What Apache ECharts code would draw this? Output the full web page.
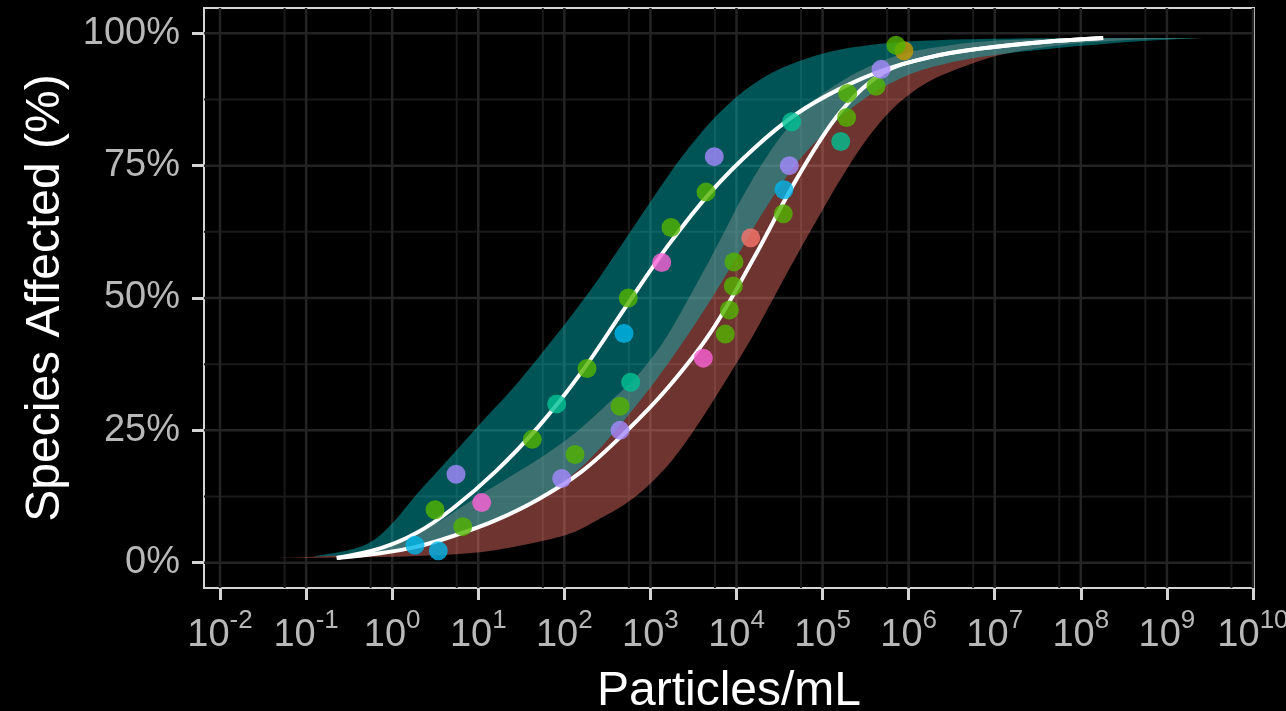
<!DOCTYPE html>
<html lang="en">
<head>
<meta charset="UTF-8" />
<title>Species Affected</title>
<script src="https://cdn.jsdelivr.net/npm/echarts@6/dist/echarts.min.js"></script>
<style>
  html, body { margin: 0; background: #000; }
  #chart { width: 1286px; height: 711px; }
</style>
</head>
<body>
<div id="chart"></div>
<script>
// x values are log10(particles/mL), y values are the fraction of species affected
var xTicks = [-2, -1, 0, 1, 2, 3, 4, 5, 6, 7, 8, 9, 10]
var yTicks = [0, 0.25, 0.5, 0.75, 1]

var groupColors = { s: '#F8766D', y: '#C49A00', g: '#53B400', t: '#00C094', c: '#00B6EB', p: '#A58AFF', k: '#FB61D7' }

// left distribution (15 species)
var setA_x = [0.265, 0.498, 0.742, 1.628, 1.911, 2.264, 2.693, 2.743, 3.131, 3.239, 3.646, 3.742, 4.641, 5.621, 5.946]
var setA_y = [0.033, 0.1, 0.167, 0.233, 0.3, 0.367, 0.433, 0.5, 0.567, 0.633, 0.7, 0.767, 0.833, 0.9, 0.967]
var setA_g = ['c', 'g', 'p', 'g', 't', 'g', 'c', 'g', 'k', 'g', 'g', 'p', 't', 'g', 'y']

// right distribution (22 species)
var setB_x = [0.536, 0.82, 1.04, 1.97, 2.124, 2.647, 2.647, 2.771, 3.615, 3.87, 3.917, 3.963, 3.971, 4.165, 4.544, 4.552, 4.614, 5.211, 5.28, 5.292, 5.679, 5.853]
var setB_y = [0.0227, 0.0682, 0.1136, 0.1591, 0.2045, 0.25, 0.2955, 0.3409, 0.3864, 0.4318, 0.4773, 0.5227, 0.5682, 0.6136, 0.6591, 0.7045, 0.75, 0.7955, 0.8409, 0.8864, 0.9318, 0.9773]
var setB_g = ['c', 'g', 'k', 'p', 'g', 'p', 'g', 't', 'k', 'g', 'g', 'g', 'g', 's', 'g', 'c', 'p', 't', 'g', 'g', 'p', 'g']

// fitted curves
var curveA_x = [-0.644, -0.14, 0.28, 0.7, 1.2, 1.7, 2.2, 2.7, 3.2, 3.7, 4.2, 4.7, 5.2, 5.7, 6.25, 6.83, 7.6, 8.26]
var curveA_y = [0.009, 0.027, 0.056, 0.102, 0.172, 0.257, 0.36, 0.48, 0.598, 0.7, 0.782, 0.848, 0.895, 0.93, 0.955, 0.971, 0.984, 0.991]
var curveB_x = [-0.644, -0.14, 0.28, 0.7, 1.2, 1.7, 2.2, 2.7, 3.2, 3.7, 4.2, 4.7, 5.2, 5.7, 6.25, 6.83, 7.6, 8.26]
var curveB_y = [0.009, 0.018, 0.03, 0.05, 0.08, 0.12, 0.172, 0.245, 0.33, 0.435, 0.575, 0.725, 0.85, 0.925, 0.955, 0.971, 0.984, 0.991]

// confidence bands (upper edge / lower edge)
var tealUp_x = [-0.92, -0.5, -0.3, -0.141, 0.05, 0.246, 0.634, 1.02, 1.485, 2.26, 3.034, 3.344, 3.731, 4.119, 4.506, 5.087, 5.667, 6.054, 6.829, 7.909, 9.42]
var tealUp_y = [0.0115, 0.024, 0.035, 0.052, 0.083, 0.122, 0.192, 0.262, 0.345, 0.505, 0.69, 0.762, 0.838, 0.895, 0.933, 0.965, 0.98, 0.985, 0.989, 0.991, 0.991]
var tealLo_x = [-0.92, -0.141, 0.5, 1.02, 1.6, 2.26, 2.995, 3.537, 3.925, 4.312, 4.7, 5.087, 5.358, 5.667, 6.054, 6.441, 6.829, 7.139, 7.909, 8.687, 9.42]
var tealLo_y = [0.0115, 0.018, 0.038, 0.066, 0.11, 0.19, 0.33, 0.455, 0.556, 0.663, 0.755, 0.823, 0.861, 0.895, 0.925, 0.943, 0.955, 0.962, 0.975, 0.985, 0.991]
var redUp_x = [-1.574, -0.92, -0.141, 0.44, 1.02, 1.795, 2.2, 2.569, 2.802, 3.1, 3.344, 3.731, 4.119, 4.506, 4.893, 5.28, 5.667, 6.054, 6.829, 7.909, 9.42]
var redUp_y = [0.0094, 0.0115, 0.024, 0.068, 0.128, 0.206, 0.255, 0.31, 0.345, 0.405, 0.47, 0.585, 0.705, 0.803, 0.872, 0.915, 0.946, 0.966, 0.984, 0.99, 0.991]
var redLo_x = [-1.574, -0.141, 1.02, 1.795, 2.1, 2.376, 2.7, 2.957, 3.27, 3.58, 4.05, 4.24, 4.58, 4.89, 5.2, 5.513, 5.862, 6.248, 6.829, 7.139, 7.909, 8.687, 9.42]
var redLo_y = [0.0094, 0.0108, 0.02, 0.043, 0.057, 0.08, 0.11, 0.143, 0.197, 0.268, 0.39, 0.443, 0.545, 0.635, 0.722, 0.8, 0.865, 0.91, 0.948, 0.962, 0.98, 0.988, 0.991]

var xMinor = [-1.25, -0.25, 0.75, 1.75, 2.75, 3.75, 4.75, 5.75, 6.75, 7.75, 8.75, 9.75]
var yMinor = [0.125, 0.375, 0.625, 0.875]

var xRange = [-2.186, 10.012]
var yRange = [-0.0477, 1.0477]

var font = 'Liberation Sans, Arial, sans-serif'
var chart = echarts.init(document.getElementById('chart'))

function zip(xs, ys) {
  var out = []
  for (var i = 0; i < xs.length; i++) out.push([xs[i], ys[i]])
  return out
}

function points(xs, ys, gs) {
  var out = []
  for (var i = 0; i < xs.length; i++) out.push({ value: [xs[i], ys[i]], itemStyle: { color: groupColors[gs[i]] } })
  return out
}

// band drawn as one polygon: upper edge left to right, lower edge back
function band(upX, upY, loX, loY, color, z) {
  return {
    type: 'custom',
    z: z,
    silent: true,
    clip: true,
    data: [0],
    renderItem: function (params, api) {
      var pts = []
      for (var i = 0; i < upX.length; i++) pts.push(api.coord([upX[i], upY[i]]))
      for (var j = loX.length - 1; j >= 0; j--) pts.push(api.coord([loX[j], loY[j]]))
      return { type: 'polygon', shape: { points: pts, smooth: 0.3 }, style: { fill: color } }
    }
  }
}

// panel grid lines (major at ticks, minor in between)
function gridSeries() {
  return {
    type: 'custom',
    z: 1,
    silent: true,
    data: [0],
    renderItem: function (params, api) {
      var kids = []
      function vline(v, color, w) {
        var a = api.coord([v, yRange[0]]), b = api.coord([v, yRange[1]])
        kids.push({ type: 'line', shape: { x1: a[0], y1: a[1], x2: b[0], y2: b[1] }, style: { stroke: color, lineWidth: w } })
      }
      function hline(v, color, w) {
        var a = api.coord([xRange[0], v]), b = api.coord([xRange[1], v])
        kids.push({ type: 'line', shape: { x1: a[0], y1: a[1], x2: b[0], y2: b[1] }, style: { stroke: color, lineWidth: w } })
      }
      xMinor.forEach(function (v) { vline(v, '#1a1a1a', 2) })
      yMinor.forEach(function (v) { hline(v, '#1a1a1a', 2) })
      xTicks.forEach(function (v) { vline(v, '#242424', 2.5) })
      yTicks.forEach(function (v) { hline(v, '#242424', 2.5) })
      return { type: 'group', children: kids }
    }
  }
}

var option = {
  backgroundColor: '#000',
  animation: false,
  grid: {
    left: 204, right: 32, top: 8, bottom: 123,
    containLabel: false,
    outerBoundsMode: 'none',
    show: true,
    backgroundColor: '#000',
    borderColor: '#d4d4d4',
    borderWidth: 2
  },
  xAxis: {
    type: 'value',
    min: xRange[0],
    max: xRange[1],
    name: 'Particles/mL',
    nameLocation: 'middle',
    nameGap: 80,
    nameTextStyle: { color: '#fff', fontSize: 48, fontFamily: font },
    axisLine: { show: false, onZero: false },
    splitLine: { show: false },
    axisTick: { show: true, customValues: xTicks, length: 12, lineStyle: { color: '#d4d4d4', width: 3 } },
    axisLabel: {
      customValues: xTicks,
      margin: 20,
      formatter: function (v) { return '{b|10}{s|' + v + '}' },
      rich: {
        b: { fontSize: 38, lineHeight: 56, color: '#b8b8b8', fontFamily: font },
        s: { fontSize: 26, lineHeight: 26, verticalAlign: 'top', color: '#b8b8b8', fontFamily: font }
      }
    }
  },
  yAxis: {
    type: 'value',
    min: yRange[0],
    max: yRange[1],
    name: 'Species Affected (%)',
    nameLocation: 'middle',
    nameRotate: 90,
    nameGap: 134,
    nameTextStyle: { color: '#fff', fontSize: 48, fontFamily: font },
    axisLine: { show: false, onZero: false },
    splitLine: { show: false },
    axisTick: { show: true, customValues: yTicks, length: 12, lineStyle: { color: '#d4d4d4', width: 3 } },
    axisLabel: {
      customValues: yTicks,
      margin: 24,
      color: '#b8b8b8',
      fontSize: 38,
      fontFamily: font,
      formatter: function (v) { return Math.round(v * 100) + '%' }
    }
  },
  series: [
    gridSeries(),
    band(redUp_x, redUp_y, redLo_x, redLo_y, 'rgba(248,118,109,0.44)', 2),
    band(tealUp_x, tealUp_y, tealLo_x, tealLo_y, 'rgba(0,191,196,0.44)', 3),
    {
      type: 'line', data: zip(curveA_x, curveA_y), z: 4, smooth: 0.35,
      showSymbol: false, silent: true, lineStyle: { color: '#fff', width: 4 }
    },
    {
      type: 'line', data: zip(curveB_x, curveB_y), z: 4, smooth: 0.35,
      showSymbol: false, silent: true, lineStyle: { color: '#fff', width: 4 }
    },
    {
      type: 'scatter', data: points(setA_x, setA_y, setA_g), z: 5, symbolSize: 19,
      itemStyle: { opacity: 0.8 }, silent: true
    },
    {
      type: 'scatter', data: points(setB_x, setB_y, setB_g), z: 5, symbolSize: 19,
      itemStyle: { opacity: 0.8 }, silent: true
    }
  ]
}

chart.setOption(option)
</script>
</body>
</html>
